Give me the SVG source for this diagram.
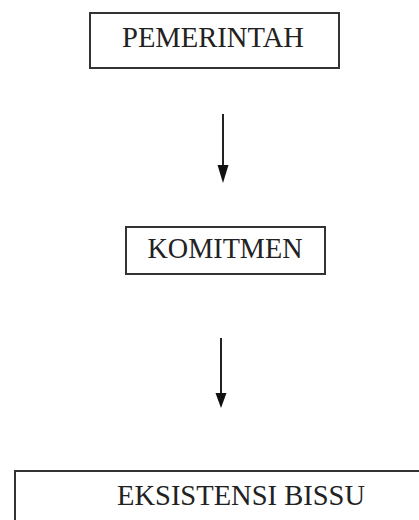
<svg xmlns="http://www.w3.org/2000/svg" width="419" height="520" viewBox="0 0 419 520">
<defs>
<style>
.box{fill:#fff;stroke:#333;stroke-width:2}
.lbl{font-family:"Liberation Serif","Times New Roman",serif;font-size:30px;fill:#222;text-anchor:middle}
.conn{stroke:#222;stroke-width:2;fill:none}
.head{fill:#111}
</style>
</defs>
<rect width="419" height="520" fill="#fff"/>
<g id="pemerintah">
<rect class="box" x="90" y="13" width="249" height="55"/>
<text class="lbl" x="213" y="47" textLength="182" lengthAdjust="spacingAndGlyphs">PEMERINTAH</text>
</g>
<g id="komitmen">
<rect class="box" x="126" y="227" width="199" height="47"/>
<text class="lbl" x="225" y="258" textLength="155" lengthAdjust="spacingAndGlyphs">KOMITMEN</text>
</g>
<g id="eksistensi">
<rect class="box" x="15" y="471" width="414" height="60"/>
<text class="lbl" x="241" y="505" textLength="248" lengthAdjust="spacingAndGlyphs">EKSISTENSI BISSU</text>
</g>
<g id="connectors">
<line class="conn" x1="223" y1="114" x2="223" y2="168"/>
<path class="head" d="M217.5,165 L228.5,165 L223,183 Z"/>
<line class="conn" x1="221" y1="338" x2="221" y2="396"/>
<path class="head" d="M215.5,393 L226.5,393 L221,408 Z"/>
</g>
</svg>
